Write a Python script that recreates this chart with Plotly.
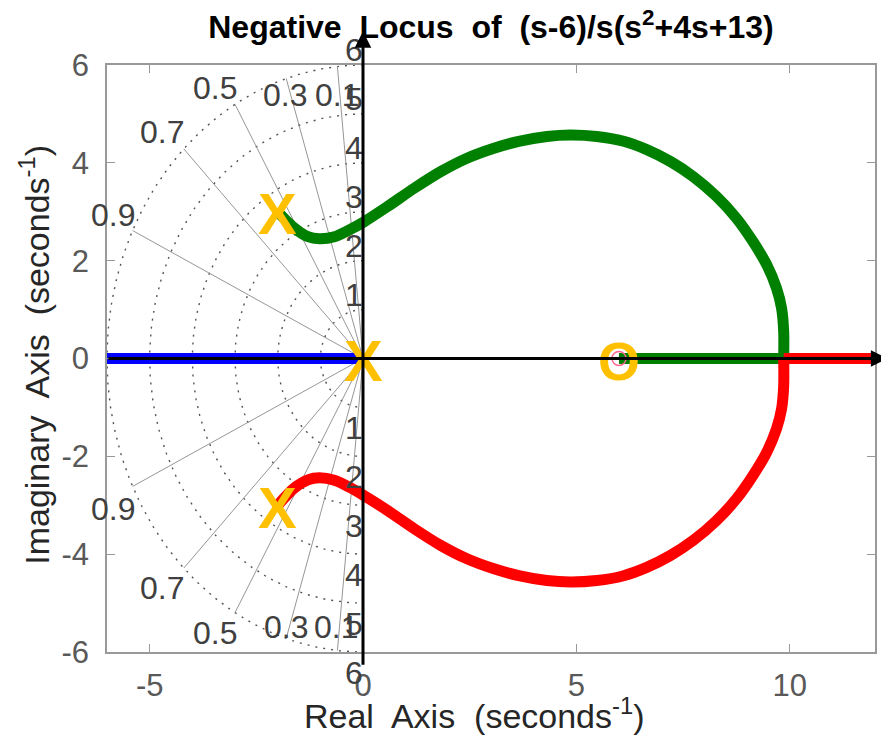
import numpy as np
import plotly.graph_objects as go

# ---------------- data ----------------
pole_re = [0.0, -2.0, -2.0]
pole_im = [0.0, 3.0, -3.0]
zero_re = [6.0]
zero_im = [0.0]

# real-axis branch (blue)
blue_re = [-7.0, 0.0]
blue_im = [0.0, 0.0]

# upper complex branch (green)
green_re = [-2.00, -1.60, -1.29, -1.02, -0.67, -0.32, 0.00, 0.58, 1.20, 1.82, 2.45,
            3.07, 3.65, 4.31, 4.86, 5.48, 6.11, 6.65, 7.20, 7.74, 8.29, 8.75, 9.14,
            9.46, 9.69, 9.81, 9.86, 9.86]
green_im = [3.00, 2.66, 2.49, 2.45, 2.49, 2.63, 2.78, 3.11, 3.48, 3.82, 4.10,
            4.30, 4.44, 4.54, 4.57, 4.54, 4.44, 4.27, 4.03, 3.72, 3.31, 2.87, 2.39,
            1.92, 1.44, 1.03, 0.55, 0.00]
green_axis_re = [9.86, 6.0]
green_axis_im = [0.0, 0.0]

# lower complex branch (red)
red_re = [-2.00, -1.60, -1.29, -1.02, -0.67, -0.32, 0.00, 0.58, 1.20, 1.82, 2.45,
          3.07, 3.65, 4.31, 4.86, 5.48, 6.11, 6.65, 7.20, 7.74, 8.29, 8.75, 9.14,
          9.46, 9.69, 9.81, 9.86, 9.86]
red_im = [-3.00, -2.64, -2.48, -2.44, -2.49, -2.63, -2.79, -3.11, -3.48, -3.82, -4.10,
          -4.30, -4.44, -4.54, -4.57, -4.54, -4.44, -4.27, -4.03, -3.72, -3.31, -2.87,
          -2.39, -1.92, -1.44, -1.03, -0.55, 0.00]
red_axis_re = [9.86, 13.0]
red_axis_im = [0.0, 0.0]

# s-plane grid
wn_values = [1, 2, 3, 4, 5, 6]
zeta_values = [0.1, 0.3, 0.5, 0.7, 0.9]
zeta_labels = ["0.1", "0.3", "0.5", "0.7", "0.9"]
zeta_label_top = [(-0.61, 5.39), (-1.83, 5.39), (-3.48, 5.52), (-4.70, 4.64), (-5.86, 2.94)]
zeta_label_bot = [(-0.63, -5.48), (-1.80, -5.48), (-3.47, -5.62), (-4.72, -4.70), (-5.86, -3.07)]

x_ticks = [-5, 0, 5, 10]
x_ticktext = ["-5", "0", "5", "10"]
y_ticks = [-6, -4, -2, 0, 2, 4, 6]
y_ticktext = ["-6", "-4", "-2", "0", "2", "4", "6"]

FONT = "Liberation Sans, Arial, sans-serif"
GOLD = "#FFC000"
GRIDC = "#555555"
LABC = "#404040"

fig = go.Figure()

# dotted wn semicircles
th = np.linspace(np.pi / 2, 3 * np.pi / 2, 181)
for r in wn_values:
    fig.add_trace(go.Scatter(x=r * np.cos(th), y=r * np.sin(th), mode="lines",
                             line=dict(color=GRIDC, width=1.4, dash="2px,6px"),
                             hoverinfo="skip", showlegend=False))
# zeta rays
rmax = max(wn_values)
for z in zeta_values:
    s = np.sqrt(1 - z * z)
    fig.add_trace(go.Scatter(x=[-rmax * z, 0, -rmax * z], y=[rmax * s, 0, -rmax * s],
                             mode="lines", line=dict(color="#8a8a8a", width=0.9),
                             hoverinfo="skip", showlegend=False))

LW = 11
fig.add_trace(go.Scatter(x=blue_re, y=blue_im, mode="lines",
                         line=dict(color="#0000FF", width=LW), showlegend=False))
fig.add_trace(go.Scatter(x=green_re, y=green_im, mode="lines",
                         line=dict(color="#008000", width=LW, shape="spline", smoothing=0.8),
                         showlegend=False))
fig.add_trace(go.Scatter(x=green_axis_re, y=green_axis_im, mode="lines",
                         line=dict(color="#008000", width=LW), showlegend=False))
fig.add_trace(go.Scatter(x=red_re, y=red_im, mode="lines",
                         line=dict(color="#FF0000", width=LW, shape="spline", smoothing=0.8),
                         showlegend=False))
fig.add_trace(go.Scatter(x=red_axis_re, y=red_axis_im, mode="lines",
                         line=dict(color="#FF0000", width=LW), showlegend=False))
# matlab zero marker (blue circle)
fig.add_trace(go.Scatter(x=zero_re, y=zero_im, mode="markers",
                         marker=dict(symbol="circle-open", size=14,
                                     line=dict(color="#0072BD", width=1.5)),
                         showlegend=False))

ann = []
LABF = dict(family=FONT, size=32, color=LABC)
PX_PER_Y = 48.9
# wn labels (anchored on the circle crossing, shifted in pixels)
for r in wn_values:
    ann.append(dict(x=-0.21, y=r, yshift=0.30 * PX_PER_Y, text=str(r),
                    showarrow=False, font=LABF))
    ann.append(dict(x=-0.21, y=-r, yshift=-0.43 * PX_PER_Y, text=str(r),
                    showarrow=False, font=LABF))
for lab, (xt, yt), (xb, yb) in zip(zeta_labels, zeta_label_top, zeta_label_bot):
    ann.append(dict(x=xt, y=yt, text=lab, showarrow=False, font=LABF))
    ann.append(dict(x=xb, y=yb, text=lab, showarrow=False, font=LABF))
# pole / zero symbols
for pr, pi_ in zip(pole_re, pole_im):
    ann.append(dict(x=pr, y=pi_, text="<b>X</b>", showarrow=False, yshift=-2,
                    font=dict(family=FONT, size=58, color=GOLD)))
for zr, zi in zip(zero_re, zero_im):
    ann.append(dict(x=zr, y=zi, text="<b>O</b>", showarrow=False, yshift=-2,
                    font=dict(family=FONT, size=54, color=GOLD)))
# black axes arrows (tails kept inside the plot so they are drawn)
ARR = dict(text="", showarrow=True, arrowsize=1.1, arrowwidth=3,
           arrowcolor="black", standoff=0, startstandoff=0, axref="x", ayref="y")
ann.append(dict(x=0, y=6.69, ax=0, ay=0, arrowhead=2, **ARR))
ann.append(dict(x=0, y=-6.26, ax=0, ay=0, arrowhead=0, **ARR))
ann.append(dict(x=12.29, y=0, ax=-6.0, ay=0, arrowhead=2, **ARR))
# axis titles
ann.append(dict(xref="paper", yref="paper", x=0.479, y=-0.1056,
                xanchor="center", yanchor="middle",
                text="Real\u00a0 Axis\u00a0 (seconds<sup>-1</sup>)", showarrow=False,
                font=dict(family=FONT, size=34, color="#262626")))
ann.append(dict(xref="paper", yref="paper", x=-0.094, y=0.506, textangle=-90,
                xanchor="center", yanchor="middle",
                text="Imaginary\u00a0 Axis\u00a0 (seconds<sup>-1</sup>)", showarrow=False,
                font=dict(family=FONT, size=34, color="#262626")))

axis_common = dict(showgrid=False, zeroline=False, showline=True, mirror="ticks",
                   linecolor="#999999", linewidth=1.5, ticks="inside", ticklen=8,
                   tickwidth=1.2, tickcolor="#999999",
                   tickfont=dict(family=FONT, size=31, color="#595959"))

# the page body adds an 8px offset, so the figure is 8px smaller than the window
fig.update_layout(
    width=881, height=727,
    margin=dict(l=99, r=12, t=57, b=83),
    paper_bgcolor="white", plot_bgcolor="white",
    title=dict(text="<b>Negative\u00a0 Locus\u00a0 of\u00a0 (s-6)/s(s<sup>2</sup>+4s+13)</b>",
               x=0.5, xref="paper", y=1 - 19 / 727, yref="container",
               xanchor="center", yanchor="middle",
               font=dict(family=FONT, size=32, color="black")),
    xaxis=dict(range=[-6, 12], tickvals=x_ticks, ticktext=x_ticktext,
               ticklabelstandoff=5, **axis_common),
    yaxis=dict(range=[-6, 6], tickvals=y_ticks, ticktext=y_ticktext,
               ticklabelstandoff=10, **axis_common),
    annotations=ann,
    showlegend=False,
)

fig.write_html("out.html")
